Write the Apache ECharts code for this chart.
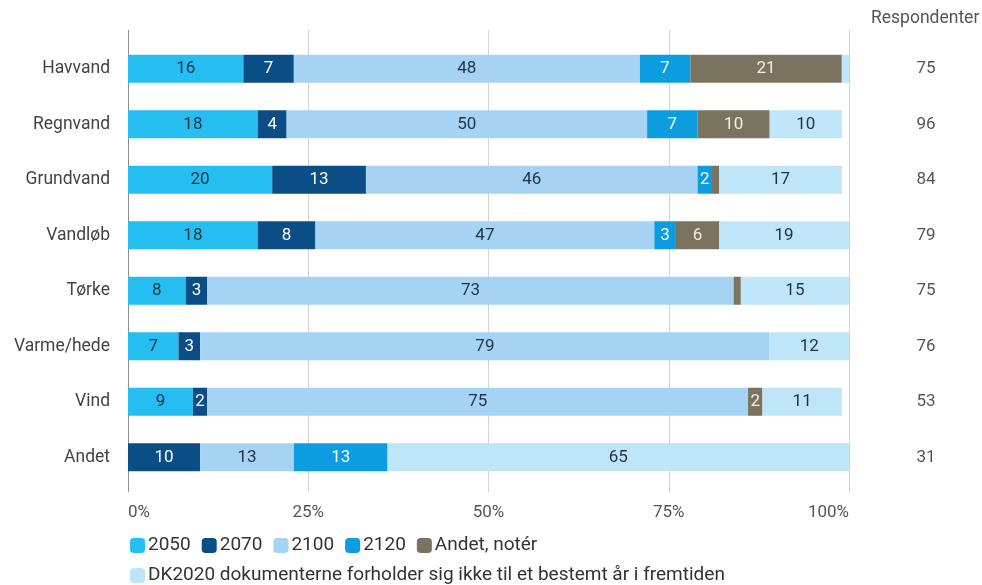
<!DOCTYPE html>
<html>
<head>
<meta charset="utf-8">
<script src="https://cdn.jsdelivr.net/npm/echarts@6/dist/echarts.min.js"></script>
<style>
  html, body { margin: 0; padding: 0; background: #ffffff; }
  #chart { width: 982px; height: 585px; }
</style>
</head>
<body>
<div id="chart"></div>
<script>
// Climate themes (top to bottom)
const categories = ['Havvand', 'Regnvand', 'Grundvand', 'Vandløb', 'Tørke', 'Varme/hede', 'Vind', 'Andet'];

// Share of answers per horizon, in percent
const values2050 = [16, 18, 20, 18, 8, 7, 9, 0];
const values2070 = [7, 4, 13, 8, 3, 3, 2, 10];
const values2100 = [48, 50, 46, 47, 73, 79, 75, 13];
const values2120 = [7, 7, 2, 3, 0, 0, 0, 13];
const valuesAndet = [21, 10, 1, 6, 1, 0, 2, 0];
const valuesDK2020 = [1, 10, 17, 19, 15, 12, 11, 65];

// Number of respondents per theme
const respondents = [75, 96, 84, 79, 75, 76, 53, 31];

// Percent axis ticks
const tickValues = [0, 25, 50, 75, 100];
const tickLabels = ['0%', '25%', '50%', '75%', '100%'];

const FONT = 'Roboto, "Noto Sans", sans-serif';

function seriesDef(name, data, color, labelColor) {
  return {
    name: name,
    type: 'bar',
    stack: 'total',
    xAxisIndex: 1,
    yAxisIndex: 1,
    barWidth: 28,
    data: data,
    itemStyle: { color: color },
    label: {
      show: true,
      position: 'inside',
      color: labelColor,
      fontFamily: FONT,
      fontSize: 17,
      formatter: function (p) { return p.value >= 2 ? String(p.value) : ''; }
    },
    emphasis: { disabled: true }
  };
}

const legendText = { fontFamily: FONT, fontSize: 19, color: '#333333', padding: [0, 0, 0, -2] };

const chart = echarts.init(document.getElementById('chart'), null, { renderer: 'canvas' });

chart.setOption({
  animation: false,
  backgroundColor: '#ffffff',
  textStyle: { fontFamily: FONT },
  title: {
    text: 'Respondenter',
    left: 871,
    top: 10,
    padding: 0,
    textStyle: { fontFamily: FONT, fontSize: 17.5, fontWeight: 'normal', color: '#555555' }
  },
  legend: [
    {
      data: ['2050', '2070', '2100', '2120', 'Andet, notér'],
      left: 130,
      top: 536,
      padding: 0,
      itemWidth: 15,
      itemHeight: 15,
      itemGap: 11,
      icon: 'roundRect',
      selectedMode: false,
      textStyle: legendText
    },
    {
      data: ['DK2020 dokumenterne forholder sig ikke til et bestemt år i fremtiden'],
      left: 130,
      top: 566,
      padding: 0,
      itemWidth: 15,
      itemHeight: 15,
      icon: 'roundRect',
      selectedMode: false,
      textStyle: legendText
    }
  ],
  grid: [
    // background grid carrying the percent gridlines and tick labels
    { left: 128, width: 721, top: 30, height: 462, containLabel: false },
    // bar grid
    { left: 128, width: 721, top: 41, height: 444, containLabel: false }
  ],
  xAxis: [
    {
      gridIndex: 0,
      type: 'value',
      min: 0,
      max: 100,
      interval: 25,
      axisLine: { show: false },
      axisTick: { show: false },
      splitLine: {
        show: true,
        lineStyle: { color: ['#8f8f8f', '#d4d4d4', '#d4d4d4', '#d4d4d4', '#d4d4d4'], width: 1 }
      },
      axisLabel: {
        show: true,
        margin: 12,
        color: '#555555',
        fontFamily: FONT,
        fontSize: 17,
        alignMinLabel: 'left',
        alignMaxLabel: 'right',
        formatter: function (v) { return tickLabels[tickValues.indexOf(v)]; }
      }
    },
    {
      gridIndex: 1,
      type: 'value',
      min: 0,
      max: 100,
      show: false
    }
  ],
  yAxis: [
    { gridIndex: 0, type: 'value', min: 0, max: 1, show: false },
    {
      gridIndex: 1,
      type: 'category',
      data: categories,
      inverse: true,
      axisLine: { show: false },
      axisTick: { show: false },
      splitLine: { show: false },
      axisLabel: { margin: 18, color: '#444444', fontFamily: FONT, fontSize: 17.5 }
    },
    {
      gridIndex: 1,
      type: 'category',
      position: 'right',
      data: respondents,
      inverse: true,
      axisLine: { show: false },
      axisTick: { show: false },
      splitLine: { show: false },
      axisLabel: { margin: 77, align: 'center', color: '#555555', fontFamily: FONT, fontSize: 17 }
    }
  ],
  series: [
    seriesDef('2050', values2050, '#26bdf0', '#1d3347'),
    seriesDef('2070', values2070, '#0b4e86', '#ffffff'),
    seriesDef('2100', values2100, '#a6d3f3', '#1d3347'),
    seriesDef('2120', values2120, '#0c9de0', '#ffffff'),
    seriesDef('Andet, notér', valuesAndet, '#79735f', '#f2eee2'),
    seriesDef('DK2020 dokumenterne forholder sig ikke til et bestemt år i fremtiden', valuesDK2020, '#bfe5f9', '#1d3347')
  ]
});
</script>
</body>
</html>
